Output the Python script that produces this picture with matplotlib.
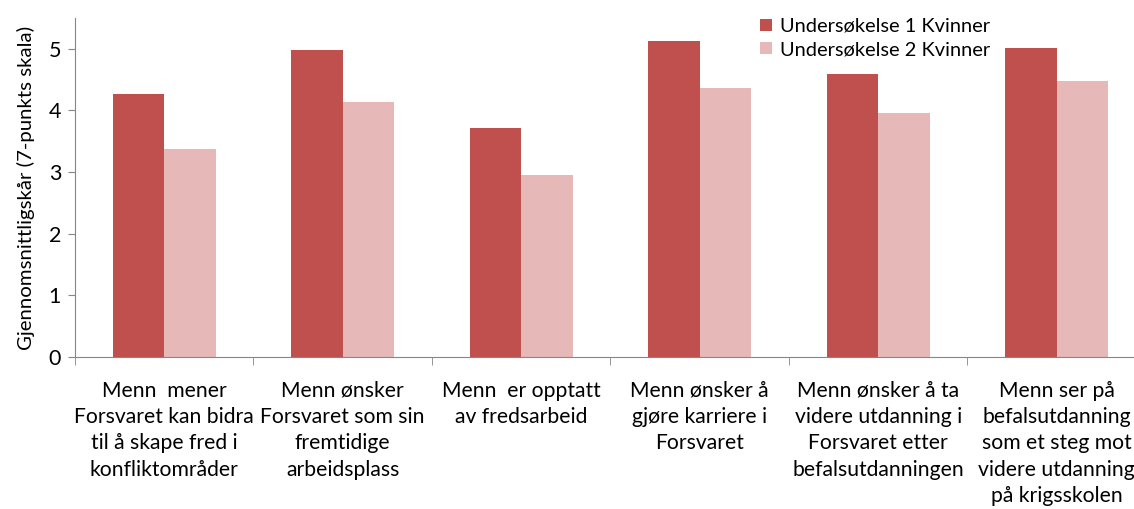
import matplotlib.pyplot as plt
import numpy as np

plt.rcParams['font.family'] = ['Lato', 'DejaVu Sans']

categories = [
    "Menn  mener\nForsvaret kan bidra\ntil å skape fred i\nkonfliktområder",
    "Menn ønsker\nForsvaret som sin\nfremtidige\narbeidsplass",
    "Menn  er opptatt\nav fredsarbeid",
    "Menn ønsker å\ngjøre karriere i\nForsvaret",
    "Menn ønsker å ta\nvidere utdanning i\nForsvaret etter\nbefalsutdanningen",
    "Menn ser på\nbefalsutdanning\nsom et steg mot\nvidere utdanning\npå krigsskolen",
]
survey1 = [4.27, 4.98, 3.72, 5.12, 4.59, 5.02]
survey2 = [3.38, 4.13, 2.96, 4.37, 3.96, 4.47]
series_names = ["Undersøkelse 1 Kvinner", "Undersøkelse 2 Kvinner"]

fig = plt.figure(figsize=(11.34, 5.09), dpi=100)
ax = fig.add_axes([75 / 1134, 152 / 509, 1071 / 1134, 339 / 509])

x = np.arange(len(categories))
w = 0.289
ax.bar(x - w / 2, survey1, w, color="#C0504D", label=series_names[0])
ax.bar(x + w / 2, survey2, w, color="#E6B9B8", label=series_names[1])

ax.set_xlim(-0.5, len(categories) - 0.5)
ax.set_ylim(0, 5.5)
ax.set_yticks(range(6))
ax.set_xticks(x)
ax.set_xticklabels(categories, fontsize=15.2, linespacing=1.4)
ax.set_xticks(np.arange(-0.5, len(categories)), minor=True)
ax.tick_params(axis="x", which="major", length=0, pad=17)
ax.tick_params(axis="x", which="minor", length=6, color="#868686", direction="out")
ax.tick_params(axis="y", length=5, color="#868686", labelsize=15.5, pad=5)

for s in ["top", "right"]:
    ax.spines[s].set_visible(False)
for s in ["left", "bottom"]:
    ax.spines[s].set_color("#868686")

ax.set_ylabel("Gjennomsnittligskår (7-punkts skala)", fontsize=14.7, labelpad=10)

fig.legend(loc="upper left", bbox_to_anchor=(752 / 1134, 1 - 10 / 509), frameon=False,
           fontsize=14.4, handlelength=0.6, handleheight=0.6, handletextpad=0.4,
           labelspacing=0.3, borderaxespad=0)

fig.savefig("out.png", dpi=100)
